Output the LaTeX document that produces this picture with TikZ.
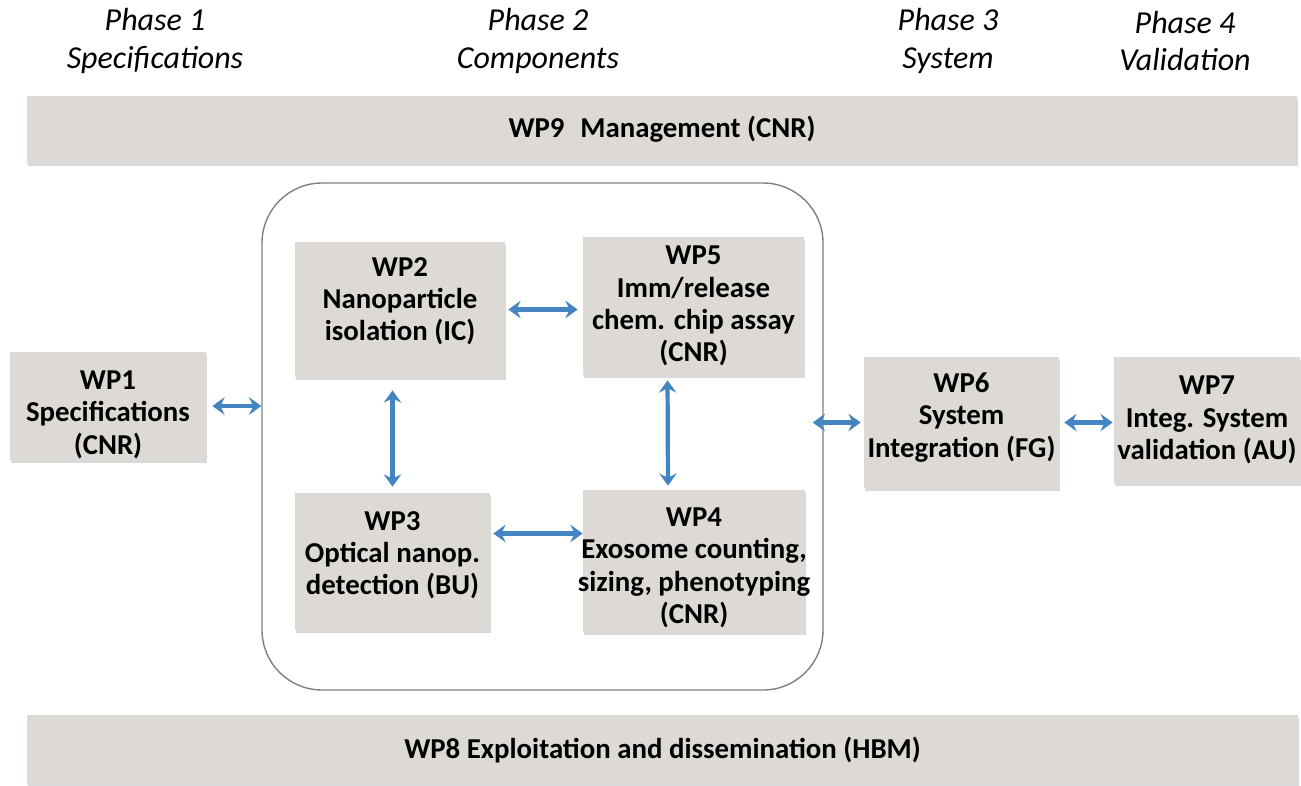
\documentclass[tikz,border=0pt]{standalone}
\usepackage{fontspec}
\setmainfont{Carlito}
\usetikzlibrary{arrows.meta,shadows}
\definecolor{boxgray}{RGB}{221,218,213}
\definecolor{arrowblue}{RGB}{68,132,192}
\begin{document}
\begin{tikzpicture}[
    wpbox/.style={fill=boxgray, draw=none, align=center, inner sep=2pt,
      font=\bfseries\fontsize{16.4}{18.4}\selectfont,
      drop shadow={shadow xshift=0.4pt, shadow yshift=-1.6pt, opacity=0.3}},
    phase/.style={align=center, font=\itshape\fontsize{18.2}{21.5}\selectfont},
    biarrow/.style={arrowblue, line width=2.4pt,
      {Stealth[length=7pt,width=10pt,inset=2.5pt]}-{Stealth[length=7pt,width=10pt,inset=2.5pt]}}
  ]
  \useasboundingbox (0,0) rectangle (26.02,-15.7);

  % Phase headings
  \node[phase] (ph1) at (3.1, -0.82) {Phase 1\\Specifications};
  \node[phase] (ph2) at (10.76, -0.82) {Phase 2\\Components};
  \node[phase] (ph3) at (18.96, -0.82) {Phase 3\\System};
  \node[phase] (ph4) at (23.7, -0.82) {Phase 4\\Validation};

  % Management and exploitation bars
  \node[wpbox, minimum width=25.4cm, minimum height=1.34cm] (wp9) at (13.24, -2.59)
    {WP9\hspace{0.55em}Management (CNR)};
  \node[wpbox, minimum width=25.42cm, minimum height=1.4cm] (wp8) at (13.25, -15.0)
    {WP8 Exploitation and dissemination (HBM)};

  % Components frame
  \node[draw=black!50, line width=0.8pt, rounded corners=1.2cm,
    minimum width=11.22cm, minimum height=10.14cm] (frame) at (10.85, -8.73) {};

  % Work packages (rules only shift the text inside its box)
  \node[wpbox, inner ysep=0pt, minimum width=3.92cm, minimum height=2.16cm] (wp1) at (2.16, -8.12)
    {\rule{0pt}{0.72cm}WP1\\Specifications\\(CNR)};
  \node[wpbox, minimum width=4.2cm, minimum height=2.7cm] (wp2) at (8.0, -6.19)
    {WP2\\Nanoparticle\\isolation (IC)\rule[-0.42cm]{0pt}{0pt}};
  \node[wpbox, minimum width=4.42cm, minimum height=2.76cm] (wp5) at (13.87, -6.12)
    {WP5\\Imm/release\\chem. chip assay\\(CNR)};
  \node[wpbox, minimum width=3.9cm, minimum height=2.74cm] (wp3) at (7.85, -11.23)
    {WP3\\Optical nanop.\\detection (BU)\rule[-0.34cm]{0pt}{0pt}};
  \node[wpbox, inner xsep=-4pt, minimum width=4.44cm, minimum height=2.84cm] (wp4) at (13.88, -11.22)
    {\rule{0pt}{0.65cm}WP4\\Exosome counting,\\sizing, phenotyping\\(CNR)};
  \node[wpbox, minimum width=3.86cm, minimum height=2.62cm] (wp6) at (19.23, -8.45)
    {WP6\\System\\Integration (FG)\rule[-0.3cm]{0pt}{0pt}};
  \node[wpbox, minimum width=3.6cm, minimum height=2.52cm] (wp7) at (24.14, -8.4)
    {WP7\\Integ. System\\validation (AU)};

  % Links
  \draw[biarrow, shorten <=0.12cm] (wp1.east) -- (wp1.east -| frame.west);
  \draw[biarrow, shorten <=0.06cm, shorten >=0.1cm] (wp2.east) -- (wp2.east -| wp5.west);
  \draw[biarrow, shorten <=0.12cm, shorten >=0.26cm] (wp3.north) -- (wp3.north |- wp2.south);
  \draw[biarrow, shorten <=0.1cm, shorten >=0.08cm]
    ([xshift=-0.52cm]wp5.south) -- ([xshift=-0.52cm]wp4.north);
  \draw[biarrow, shorten <=0.06cm]
    ([yshift=0.56cm]wp3.east) -- ([yshift=0.56cm]wp3.east -| wp4.west);
  \draw[biarrow, shorten >=0.06cm] ([xshift=-0.22cm]frame.east |- wp6.west) -- (wp6.west);
  \draw[biarrow, shorten <=0.1cm, shorten >=0.02cm] (wp6.east) -- (wp6.east -| wp7.west);
\end{tikzpicture}
\end{document}
